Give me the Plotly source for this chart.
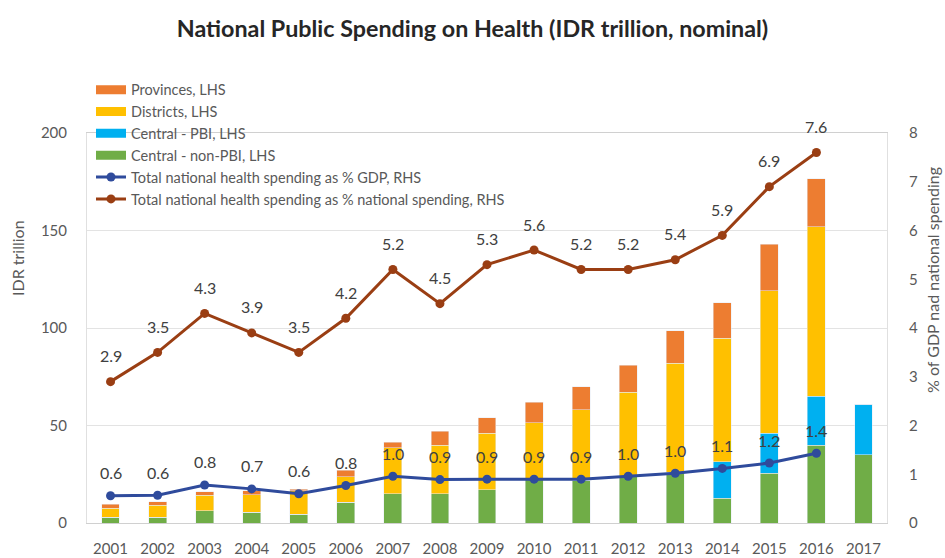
import plotly.graph_objects as go

years = [str(y) for y in range(2001, 2018)]
line_years = years[:16]

central_non_pbi = [3, 3, 6.3, 5.5, 4.5, 10.6, 15, 15, 17, 23, 22, 24, 26, 12.7, 25.5, 40, 35]
central_pbi = [0, 0, 0, 0, 0, 0, 0, 0, 0, 0, 0, 0, 0, 18.7, 20.5, 25, 26]
districts = [4.5, 6, 8, 9, 12, 13, 23.5, 25, 29, 28.5, 36, 43, 56, 63.3, 73, 87, 0]
provinces = [2, 2, 1.7, 2, 0.8, 3.4, 3, 7, 8, 10.3, 12, 14, 16.5, 18.3, 24, 24.5, 0]

gdp_share = [0.56, 0.57, 0.78, 0.70, 0.60, 0.77, 0.96, 0.89, 0.90, 0.90, 0.90, 0.96, 1.02, 1.12, 1.23, 1.43]
gdp_labels = ["0.6", "0.6", "0.8", "0.7", "0.6", "0.8", "1.0", "0.9", "0.9", "0.9", "0.9", "1.0", "1.0", "1.1", "1.2", "1.4"]
nat_share = [2.9, 3.5, 4.3, 3.9, 3.5, 4.2, 5.2, 4.5, 5.3, 5.6, 5.2, 5.2, 5.4, 5.9, 6.9, 7.6]
nat_labels = ["2.9", "3.5", "4.3", "3.9", "3.5", "4.2", "5.2", "4.5", "5.3", "5.6", "5.2", "5.2", "5.4", "5.9", "6.9", "7.6"]

bar_names = ["Provinces, LHS", "Districts, LHS", "Central - PBI, LHS", "Central - non-PBI, LHS"]
bar_colors = ["#ED7D31", "#FFC000", "#00B0F0", "#70AD47"]

FONT = "Lato"
GRAY = "#595959"
BW = 0.38

L, R, T, B = 87, 58, 133, 35
W, H = 945, 558
pw, ph = W - L - R, H - T - B

fig = go.Figure()
stack = [central_non_pbi, central_pbi, districts, provinces]
stack_idx = [3, 2, 1, 0]
for vals, k in zip(stack, stack_idx):
    fig.add_trace(go.Bar(x=years, y=vals, name=bar_names[k], marker_color=bar_colors[k],
                         width=BW, showlegend=False))

# legend swatches (wide rectangles like the reference)
for k, (nm, col) in enumerate(zip(bar_names, bar_colors)):
    fig.add_trace(go.Scatter(x=[None], y=[None], mode="lines", name=nm,
                             line=dict(color=col, width=9), legendrank=k + 1))

fig.add_trace(go.Scatter(x=line_years, y=gdp_share, yaxis="y2", mode="lines+markers",
                         name="Total national health spending as % GDP, RHS",
                         line=dict(color="#2F4B9C", width=3), marker=dict(size=9, color="#2F4B9C"),
                         legendrank=5))
fig.add_trace(go.Scatter(x=line_years, y=nat_share, yaxis="y2", mode="lines+markers",
                         name="Total national health spending as % national spending, RHS",
                         line=dict(color="#9A3E13", width=3), marker=dict(size=9, color="#9A3E13"),
                         legendrank=6))

annotations = []
for i, (y, t) in enumerate(zip(gdp_share, gdp_labels)):
    annotations.append(dict(x=i, y=y, xref="x", yref="y2", text=t, showarrow=False,
                            yshift=23, font=dict(family=FONT, size=16, color="#404040")))
for i, (y, t) in enumerate(zip(nat_share, nat_labels)):
    annotations.append(dict(x=i, y=y, xref="x", yref="y2", text=t, showarrow=False,
                            yshift=26, font=dict(family=FONT, size=16, color="#404040")))
annotations.append(dict(x=(17 - L) / pw, y=(H - B - 258) / ph, xref="paper", yref="paper",
                        text="IDR trillion", showarrow=False, textangle=-90,
                        xanchor="center", yanchor="middle",
                        font=dict(family=FONT, size=16, color=GRAY)))
annotations.append(dict(x=(932 - L) / pw, y=(H - B - 280) / ph, xref="paper", yref="paper",
                        text="% of GDP nad national spending", showarrow=False, textangle=-90,
                        xanchor="center", yanchor="middle",
                        font=dict(family=FONT, size=16, color=GRAY)))

fig.update_layout(
    width=W, height=H,
    margin=dict(l=L, r=R, t=T, b=B, autoexpand=False),
    barmode="stack",
    plot_bgcolor="white", paper_bgcolor="white",
    font=dict(family=FONT, size=12, color=GRAY),
    title=dict(text="<b>National Public Spending on Health (IDR trillion, nominal)</b>",
               x=0.5, xanchor="center", y=1 - 29 / H, yanchor="middle", yref="container",
               font=dict(family=FONT, size=23.3, color="#262626")),
    xaxis=dict(type="category", range=[-0.5, 16.5], showgrid=False, showline=True,
               linecolor="#D0D0D0", ticks="", tickfont=dict(family=FONT, size=15, color=GRAY),
               mirror=True, ticklabelstandoff=12, automargin=False),
    yaxis=dict(range=[0, 200], dtick=50, showgrid=True, gridcolor="#E3E3E3", showline=True,
               linecolor="#E0E0E0", zeroline=False, ticks="", automargin=False,
               tickfont=dict(family=FONT, size=15, color=GRAY), ticklabelstandoff=16),
    yaxis2=dict(range=[0, 8], dtick=1, overlaying="y", side="right", showgrid=False,
                showline=True, linecolor="#E0E0E0", zeroline=False, ticks="", automargin=False,
                tickfont=dict(family=FONT, size=15, color=GRAY), ticklabelstandoff=18),
    legend=dict(x=0.005, y=1.152, xanchor="left", yanchor="top", traceorder="normal",
                bgcolor="rgba(0,0,0,0)", font=dict(family=FONT, size=14.5, color=GRAY),
                tracegroupgap=0, itemwidth=30),
    annotations=annotations,
    showlegend=True,
)

fig.write_html("out.html")
